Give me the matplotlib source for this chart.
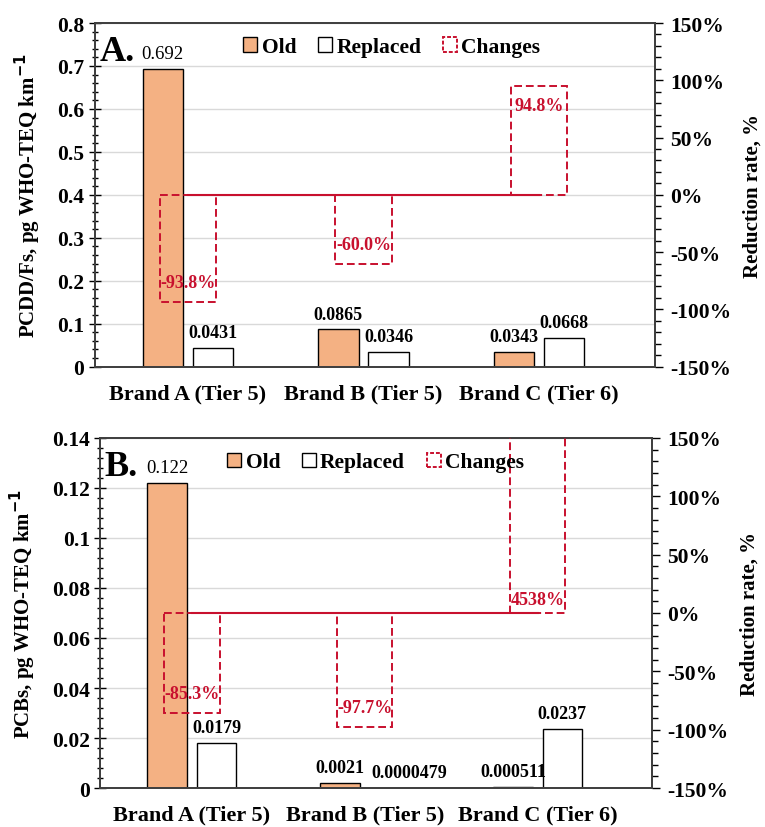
import matplotlib.pyplot as plt
from matplotlib.patches import Patch
from matplotlib.ticker import MultipleLocator, FuncFormatter
import numpy as np

plt.rcParams['font.family'] = ['Liberation Serif', 'DejaVu Serif']
plt.rcParams['font.weight'] = 'bold'

categories = ['Brand A (Tier 5)', 'Brand B (Tier 5)', 'Brand C (Tier 6)']

# panel A: PCDD/Fs
old_a = [0.692, 0.0865, 0.0343]
new_a = [0.0431, 0.0346, 0.0668]
chg_a = [-93.8, -60.0, 94.8]
old_a_lbl = ['0.692', '0.0865', '0.0343']
new_a_lbl = ['0.0431', '0.0346', '0.0668']
chg_a_lbl = ['-93.8%', '-60.0%', '94.8%']

# panel B: PCBs
old_b = [0.122, 0.0021, 0.000511]
new_b = [0.0179, 0.0000479, 0.0237]
chg_b = [-85.3, -97.7, 4538]
old_b_lbl = ['0.122', '0.0021', '0.000511']
new_b_lbl = ['0.0179', '0.0000479', '0.0237']
chg_b_lbl = ['-85.3%', '-97.7%', '4538%']

ORANGE = '#F4B183'
RED = '#C8102E'
GRID = '#D9D9D9'

fig = plt.figure(figsize=(7.65, 8.28), dpi=100)


def panel(rect, old, new, chg, old_lbl, new_lbl, chg_lbl, ymax, ystep, yminor,
          ylabel, letter, tickfmt, leg_anchor, new_shift):
    ax = fig.add_axes(rect)
    x = np.arange(len(categories))
    w = 0.23
    ax.bar(x - 0.143, old, w, color=ORANGE, edgecolor='black', linewidth=1, zorder=2)
    ax.bar(x + 0.143, new, w, color='white', edgecolor='black', linewidth=1, zorder=2)
    for i in range(len(x)):
        # first label of each panel is plain weight in the original
        ax.annotate(old_lbl[i], (x[i] - 0.143, old[i]), xytext=(0, 5),
                    textcoords='offset points', ha='center', va='bottom',
                    fontsize=13.5 if i == 0 else 13,
                    fontweight='normal' if i == 0 else 'bold')
        ax.annotate(new_lbl[i], (x[i] + 0.143, new[i]), xytext=(new_shift[i], 5),
                    textcoords='offset points', ha='center', va='bottom',
                    fontsize=13, fontweight='bold')
    ax.set_xlim(-0.53, 2.66)
    ax.set_ylim(0, ymax)
    ax.yaxis.set_major_locator(MultipleLocator(ystep))
    ax.yaxis.set_minor_locator(MultipleLocator(yminor))
    ax.yaxis.set_major_formatter(FuncFormatter(tickfmt))
    ax.grid(axis='y', color=GRID, linewidth=1, zorder=0)
    ax.set_axisbelow(True)
    ax.set_xticks(x)
    ax.set_xticklabels(categories, fontsize=16, fontweight='bold')
    ax.tick_params(axis='x', length=0, pad=12)
    ax.tick_params(axis='y', which='major', direction='inout', length=8,
                   labelsize=15.5, width=1)
    ax.tick_params(axis='y', which='minor', direction='inout', length=5, width=1)
    ax.set_ylabel(ylabel, fontsize=15, fontweight='bold', labelpad=10)
    for s in ax.spines.values():
        s.set_color('#404040')
        s.set_linewidth(1.3)
    ax.text(0.008, 0.965, letter, transform=ax.transAxes, fontsize=26,
            fontweight='bold', va='top', ha='left')

    ax2 = ax.twinx()
    ax2.bar(x, chg, 0.32, fill=False, edgecolor=RED, linestyle=(0, (4, 2)),
            linewidth=1.4, zorder=3)
    ax2.plot(x, np.zeros(len(x)), color=RED, linewidth=1.5, zorder=2)
    for i in range(len(x)):
        v = chg[i]
        if v > 150:
            ax2.annotate(chg_lbl[i], (x[i], 0), xytext=(0, 10),
                         textcoords='offset points', ha='center', va='center',
                         color=RED, fontsize=13, fontweight='bold')
        else:
            off = -14 if v > 0 else 14
            ax2.annotate(chg_lbl[i], (x[i], v), xytext=(0, off),
                         textcoords='offset points', ha='center', va='center',
                         color=RED, fontsize=13, fontweight='bold')
    ax2.set_ylim(-150, 150)
    ax2.yaxis.set_major_locator(MultipleLocator(50))
    ax2.yaxis.set_minor_locator(MultipleLocator(10))
    ax2.yaxis.set_major_formatter(FuncFormatter(lambda v, p: f'{v:.0f}%'))
    ax2.tick_params(axis='y', which='major', direction='out', length=6,
                    labelsize=15.5, width=1, pad=5)
    ax2.tick_params(axis='y', which='minor', direction='out', length=4, width=1)
    ax2.set_ylabel('Reduction rate, %', fontsize=15, fontweight='bold', labelpad=8)
    for s in ax2.spines.values():
        s.set_color('#404040')
        s.set_linewidth(1.3)

    handles = [Patch(facecolor=ORANGE, edgecolor='black', linewidth=1),
               Patch(facecolor='white', edgecolor='black', linewidth=1),
               Patch(facecolor='none', edgecolor=RED, linestyle=(0, (2, 1)),
                     linewidth=1.4)]
    ax2.legend(handles, ['Old', 'Replaced', 'Changes'], ncol=3, frameon=False,
               loc='center left', bbox_to_anchor=leg_anchor, fontsize=15.5,
               handlelength=0.65, handleheight=0.65, handletextpad=0.2,
               columnspacing=1.0, borderaxespad=0)
    return ax, ax2


panel([0.124, 0.556, 0.732, 0.415], old_a, new_a, chg_a, old_a_lbl, new_a_lbl,
      chg_a_lbl, 0.8, 0.1, 0.02, 'PCDD/Fs, pg WHO-TEQ km$^{\\mathbf{-1}}$', 'A.',
      lambda v, p: f'{v:.1f}' if v > 0 else '0', (0.25, 0.93), [0, 0, 0])

panel([0.131, 0.047, 0.721, 0.423], old_b, new_b, chg_b, old_b_lbl, new_b_lbl,
      chg_b_lbl, 0.14, 0.02, 0.004, 'PCBs, pg WHO-TEQ km$^{\\mathbf{-1}}$', 'B.',
      lambda v, p: ('%.2f' % v).rstrip('0') if v > 0 else '0', (0.215, 0.93),
      [0, 14, 0])

fig.savefig('out.png', dpi=100)
